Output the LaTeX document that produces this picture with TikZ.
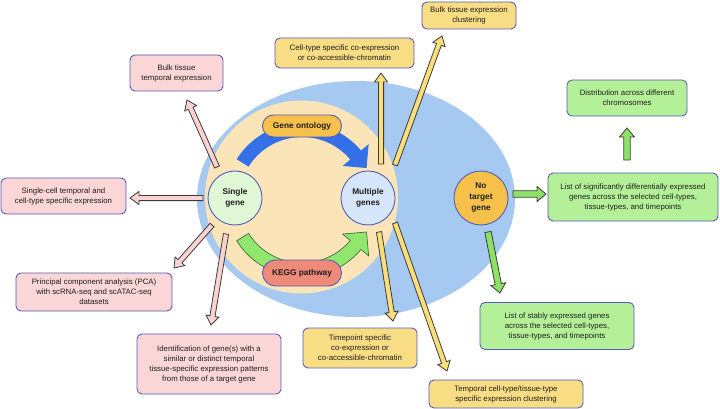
\documentclass[tikz,border=0pt]{standalone}
\usepackage{fontspec}
\setmainfont{Liberation Sans}
\usetikzlibrary{calc}
\definecolor{ellblue}{RGB}{166,201,241}
\definecolor{beige}{RGB}{251,229,184}
\definecolor{bord}{RGB}{85,92,190}
\definecolor{sgfill}{RGB}{224,247,214}
\definecolor{mgfill}{RGB}{214,230,250}
\definecolor{orng}{RGB}{246,193,74}
\definecolor{kegg}{RGB}{238,138,120}
\definecolor{pinkbox}{RGB}{250,214,214}
\definecolor{yelbox}{RGB}{248,221,132}
\definecolor{grnbox}{RGB}{180,240,152}
\definecolor{arcblue}{RGB}{52,112,232}
\definecolor{arcgreen}{RGB}{145,230,110}
\definecolor{dkline}{RGB}{60,60,60}
\definecolor{pinkarr}{RGB}{250,210,210}
\definecolor{yelarr}{RGB}{250,222,122}
\definecolor{grnarr}{RGB}{140,226,100}
\definecolor{txt}{RGB}{30,30,30}
\tikzset{
  box/.style={draw=bord, line width=0.9pt, rounded corners=5pt, align=center,
    inner sep=1pt, text=txt, font=\fontsize{7.8}{10}\selectfont},
  pinkb/.style={box, fill=pinkbox},
  yelb/.style={box, fill=yelbox},
  grnb/.style={box, fill=grnbox},
  gcirc/.style={circle, draw=bord, line width=0.9pt, minimum size=54pt, inner sep=0pt,
    align=center, text=txt, font=\bfseries\fontsize{8.3}{11}\selectfont},
  pill/.style={draw=bord, line width=0.9pt, rounded corners=11pt, align=center,
    text=txt, font=\bfseries\fontsize{8.3}{10}\selectfont},
  parr/.style={draw=dkline, line width=0.8pt, fill=pinkarr, line join=miter},
  yarr/.style={draw=dkline, line width=0.8pt, fill=yelarr, line join=miter},
  garr/.style={draw=dkline, line width=0.8pt, fill=grnarr, line join=miter},
}
\newcommand\blockarrow[5]{% from, to, style, half shaft, half head
  \path ($(#2)!9pt!(#1)$) coordinate (bah);
  \draw[#3] ($(#1)!#4!90:(#2)$) -- ($(bah)!#4!-90:(#1)$) -- ($(bah)!#5!-90:(#1)$)
    -- (#2) -- ($(bah)!#5!90:(#1)$) -- ($(bah)!#4!90:(#1)$) -- ($(#1)!#4!-90:(#2)$) -- cycle;
}
\begin{document}
\begin{tikzpicture}[x=1pt,y=1pt]
\useasboundingbox (0,0) rectangle (720,-409);
% background shapes
\fill[ellblue] (356,-199) ellipse [x radius=159, y radius=118];
\fill[beige] (301.5,-197) circle [radius=96.5];
\coordinate (c) at (302,-200);
% blue arc arrow
\fill[arcblue] ($(c)+(148:77)$) arc[start angle=148, end angle=40, radius=77]
  -- ($(c)+(40:87)$) -- ($(c)+(40:70)+(-50:17)$) -- ($(c)+(40:53)$)
  -- ($(c)+(40:63)$) arc[start angle=40, end angle=148, radius=63] -- cycle;
% green arc arrow
\filldraw[fill=arcgreen, draw=dkline!80!green, line width=0.6pt]
  ($(c)+(212:63)$) arc[start angle=212, end angle=320, radius=63]
  -- ($(c)+(320:53)$) -- ($(c)+(320:70)+(50:17)$) -- ($(c)+(320:87)$)
  -- ($(c)+(320:77)$) arc[start angle=320, end angle=212, radius=77] -- cycle;
% central nodes
\node[pill, fill=orng, minimum width=79pt, minimum height=22pt] (go) at (302,-126) {Gene ontology};
\node[pill, fill=kegg, rounded corners=13pt, minimum width=79pt, minimum height=26pt] (kegg) at (302,-273) {KEGG pathway};
\node[gcirc, fill=sgfill] (sg) at (235,-198) {Single\\gene};
\node[gcirc, fill=mgfill] (mg) at (368,-198) {Multiple\\genes};
\node[gcirc, fill=orng] (nt) at (481,-198) {No\\target\\gene};
% boxes
\node[pinkb, minimum width=93pt, minimum height=36pt] (bt) at (176.5,-73) {Bulk tissue\\temporal expression};
\node[pinkb, minimum width=125pt, minimum height=36pt] (sc) at (63.5,-196) {Single-cell temporal and\\cell-type specific expression};
\node[pinkb, minimum width=156pt, minimum height=38pt] (pca) at (94,-292) {Principal component analysis (PCA)\\with scRNA-seq and scATAC-seq\\datasets};
\node[pinkb, minimum width=144pt, minimum height=60pt] (ident) at (209,-364) {Identification of gene(s) with a\\similar or distinct temporal\\tissue-specific expression patterns\\from those of a target gene};
\node[yelb, minimum width=139pt, minimum height=30pt] (ct) at (344.5,-53) {Cell-type specific co-expression\\or co-accessible-chromatin};
\node[yelb, minimum width=94pt, minimum height=27pt] (btc) at (469,-15.5) {Bulk tissue expression\\clustering};
\node[yelb, minimum width=114pt, minimum height=40pt] (tp) at (360,-348) {Timepoint specific\\co-expression or\\co-accessible-chromatin};
\node[yelb, minimum width=154pt, minimum height=28pt] (tct) at (506,-394) {Temporal cell-type/tissue-type\\specific expression clustering};
\node[grnb, minimum width=170pt, minimum height=48pt] (de) at (633,-197) {List of significantly differentially expressed\\genes across the selected cell-types,\\tissue-types, and timepoints};
\node[grnb, minimum width=120pt, minimum height=36pt] (dist) at (627,-98) {Distribution across different\\chromosomes};
\node[grnb, minimum width=154pt, minimum height=47pt] (stab) at (557,-326) {List of stably expressed genes\\across the selected cell-types,\\tissue-types, and timepoints};
% arrow end coordinates
\coordinate (p1s) at (217,-167); \coordinate (p1e) at (187,-100);
\coordinate (p2s) at (203,-198); \coordinate (p2e) at (130,-198);
\coordinate (p3s) at (212,-225); \coordinate (p3e) at (174,-268);
\coordinate (p4s) at (226,-234); \coordinate (p4e) at (211,-325);
\coordinate (y1s) at (381,-164); \coordinate (y1e) at (381,-73);
\coordinate (y2s) at (395,-165); \coordinate (y2e) at (442,-36);
\coordinate (y3s) at (379,-232); \coordinate (y3e) at (393,-321);
\coordinate (y4s) at (395,-223); \coordinate (y4e) at (447,-371);
\coordinate (g1s) at (513,-194); \coordinate (g1e) at (546,-194);
\coordinate (g2s) at (627,-160); \coordinate (g2e) at (627,-128);
\coordinate (g3s) at (488,-232); \coordinate (g3e) at (500,-293);
% block arrows
\blockarrow{p1s}{p1e}{parr}{2.6pt}{6.5pt}
\blockarrow{p2s}{p2e}{parr}{2.6pt}{6.5pt}
\blockarrow{p3s}{p3e}{parr}{2.6pt}{6.5pt}
\blockarrow{p4s}{p4e}{parr}{2.6pt}{6.5pt}
\blockarrow{y1s}{y1e}{yarr}{2.6pt}{6.5pt}
\blockarrow{y2s}{y2e}{yarr}{2.6pt}{6.5pt}
\blockarrow{y3s}{y3e}{yarr}{2.6pt}{6.5pt}
\blockarrow{y4s}{y4e}{yarr}{2.6pt}{6.5pt}
\blockarrow{g1s}{g1e}{garr}{3.2pt}{7.5pt}
\blockarrow{g2s}{g2e}{garr}{3.2pt}{7.5pt}
\blockarrow{g3s}{g3e}{garr}{3.2pt}{7.5pt}
\end{tikzpicture}
\end{document}
